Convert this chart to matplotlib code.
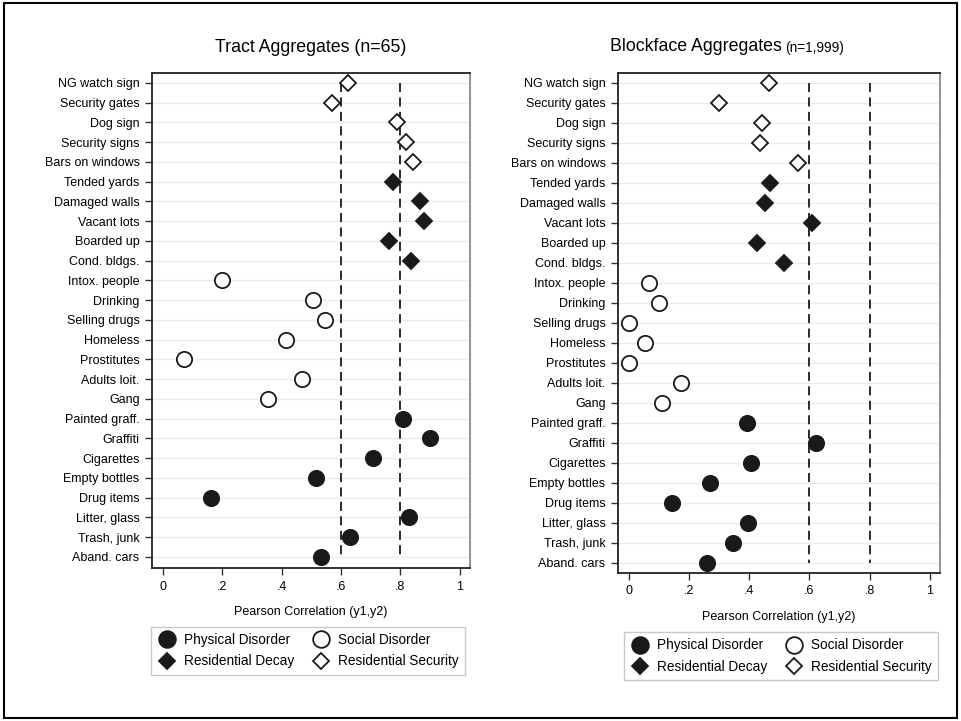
import matplotlib.pyplot as plt
from matplotlib.lines import Line2D
from matplotlib.patches import Rectangle

plt.rcParams['font.family'] = ['Liberation Sans', 'DejaVu Sans']

items = ["NG watch sign", "Security gates", "Dog sign", "Security signs", "Bars on windows",
         "Tended yards", "Damaged walls", "Vacant lots", "Boarded up", "Cond. bldgs.",
         "Intox. people", "Drinking", "Selling drugs", "Homeless", "Prostitutes",
         "Adults loit.", "Gang", "Painted graff.", "Graffiti", "Cigarettes",
         "Empty bottles", "Drug items", "Litter, glass", "Trash, junk", "Aband. cars"]
# group of each item (top to bottom)
groups = ["security"] * 5 + ["decay"] * 5 + ["social"] * 7 + ["physical"] * 8

tract_r = [0.625, 0.570, 0.789, 0.817, 0.841,
           0.775, 0.865, 0.880, 0.762, 0.837,
           0.198, 0.506, 0.546, 0.416, 0.073, 0.470, 0.353,
           0.810, 0.899, 0.709, 0.517, 0.162, 0.828, 0.629, 0.531]
block_r = [0.466, 0.299, 0.444, 0.437, 0.563,
           0.468, 0.453, 0.608, 0.426, 0.514,
           0.066, 0.099, 0.000, 0.055, 0.000, 0.173, 0.111,
           0.392, 0.622, 0.405, 0.268, 0.143, 0.396, 0.347, 0.259]
ref_lines = [0.6, 0.8]
xticks = [0, 0.2, 0.4, 0.6, 0.8, 1]
xticklabels = ["0", ".2", ".4", ".6", ".8", "1"]

dark = "#1a1a1a"
styles = {
    "physical": dict(marker="o", ms=11, mfc=dark, mec=dark, label="Physical Disorder"),
    "social": dict(marker="o", ms=11, mfc="white", mec=dark, label="Social Disorder"),
    "decay": dict(marker="D", ms=8.3, mfc=dark, mec=dark, label="Residential Decay"),
    "security": dict(marker="D", ms=8.3, mfc="white", mec=dark, label="Residential Security"),
}
# column-major order so rows read: Physical/Social, Decay/Security
legend_order = ["physical", "decay", "social", "security"]

fig = plt.figure(figsize=(9.61, 7.21), dpi=100)
fig.patches.append(Rectangle((0.004, 0.004), 0.992, 0.992, transform=fig.transFigure,
                             fill=False, ec="black", lw=1.5))

ax1 = fig.add_axes([0.1582, 0.2122, 0.3309, 0.6865])
ax2 = fig.add_axes([0.6431, 0.2053, 0.3351, 0.6935])


def panel(ax, vals, ylim, leg_anchor):
    ypos = list(range(len(items)))
    for y in ypos:
        ax.axhline(y, color="#ececec", lw=1, zorder=0)
    ax.vlines(ref_lines, 0, len(items) - 1, colors=dark, linestyles=(0, (5, 3)), lw=1.3, zorder=1)
    for g in legend_order:
        xs = [v for v, gg in zip(vals, groups) if gg == g]
        ys = [y for y, gg in zip(ypos, groups) if gg == g]
        ax.plot(xs, ys, ls="none", mew=1.3, zorder=3, **styles[g])
    ax.set_ylim(*ylim)
    ax.set_xlim(-0.036, 1.034)
    ax.set_yticks(ypos)
    ax.set_yticklabels(items, fontsize=9)
    ax.set_xticks(xticks)
    ax.set_xticklabels(xticklabels, fontsize=9)
    ax.tick_params(direction="out", length=5, width=1, color="#333333", pad=4)
    ax.set_xlabel("Pearson Correlation (y1,y2)", fontsize=9, labelpad=10)
    for s in ["left", "bottom", "top"]:
        ax.spines[s].set_color("#222222")
        ax.spines[s].set_linewidth(1.3)
    ax.spines["right"].set_color("#888888")
    ax.spines["right"].set_linewidth(1.3)
    handles = [Line2D([], [], ls="none", mew=1.3, **styles[g]) for g in legend_order]
    handles[0].set_markersize(12)
    handles[2].set_markersize(12)
    leg = ax.legend(handles=handles, ncol=2, loc="upper center", bbox_to_anchor=leg_anchor,
                    fontsize=9.8, frameon=True, fancybox=False, edgecolor="#bbbbbb",
                    handletextpad=0.5, columnspacing=1.2, borderpad=0.45, labelspacing=0.55,
                    handlelength=1.5)
    leg.get_frame().set_linewidth(1)
    return ax


panel(ax1, tract_r, (24.56, -0.5), (0.49, -0.105))
panel(ax2, block_r, (24.5, -0.5), (0.505, -0.105))

ax1.set_title("Tract Aggregates (n=65)", fontsize=12.8, pad=15)
ax2.text(0.51, 1.035, "Blockface Aggregates", transform=ax2.transAxes, fontsize=12.8,
         ha="right", va="bottom")
ax2.text(0.52, 1.035, "(n=1,999)", transform=ax2.transAxes, fontsize=9.8,
         ha="left", va="bottom")

fig.savefig("out.png", dpi=100, facecolor="white")
